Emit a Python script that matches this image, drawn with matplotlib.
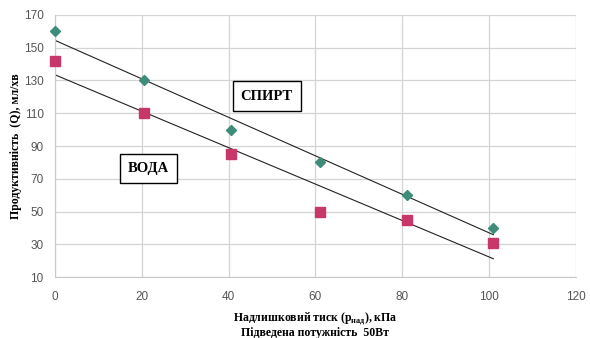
import matplotlib.pyplot as plt
import numpy as np

# надлишковий тиск, кПа
p_spyrt = [0, 20.5, 40.5, 61, 81, 101]
p_voda = [0, 20.5, 40.5, 61, 81, 101]
# продуктивність, мл/хв
q_spyrt = [160, 130, 100, 80, 60, 40]
q_voda = [142, 110, 85, 50, 45, 31]

plt.rcParams['mathtext.fontset'] = 'custom'
plt.rcParams['mathtext.rm'] = 'Liberation Serif:bold'

fig = plt.figure(figsize=(5.9, 3.38), dpi=100)
ax = fig.add_axes([0.093, 0.180, 0.883, 0.776])

ax.plot(p_spyrt, q_spyrt, "D", color="#3e8c7a", markersize=5.5, zorder=3, clip_on=False)
ax.plot(p_voda, q_voda, "s", color="#c8376a", markersize=7, zorder=3, clip_on=False)

# лінійні тренди
for p, q in [(p_spyrt, q_spyrt), (p_voda, q_voda)]:
    k, b = np.polyfit(p, q, 1)
    xs = np.array([0, max(p)])
    ax.plot(xs, k * xs + b, color="#222222", linewidth=0.8, zorder=2)

ax.set_xlim(0, 120)
ax.set_ylim(10, 170)
ax.set_xticks(range(0, 121, 20))
ax.set_yticks(range(10, 171, 20))
ax.grid(True, color="#d4d4d4", linewidth=0.9)
ax.set_axisbelow(True)
for s in ax.spines.values():
    s.set_visible(False)
ax.spines['left'].set_visible(True)
ax.spines['bottom'].set_visible(True)
ax.spines['left'].set_color("#c8c8c8")
ax.spines['bottom'].set_color("#c8c8c8")
ax.tick_params(length=0, labelsize=8.5, labelcolor="#555555")
ax.tick_params(axis="x", pad=10)
ax.tick_params(axis="y", pad=8)
for lbl in ax.get_xticklabels() + ax.get_yticklabels():
    lbl.set_family("Liberation Sans")

ax.set_ylabel("Продуктивність  (Q), мл/хв", family="Liberation Serif",
              fontweight="bold", fontsize=8.5, labelpad=1)
ax.set_xlabel("Надлишковий тиск (р$_{\\mathrm{над}}$), кПа\nПідведена потужність  50Вт",
              family="Liberation Serif", fontweight="bold", fontsize=8.5,
              linespacing=1.05, labelpad=5)

box = dict(boxstyle="square,pad=0.55", facecolor="white", edgecolor="black", linewidth=1)
ax.text(48.8, 120.5, "СПИРТ", family="Liberation Serif", fontweight="bold",
        fontsize=10.5, ha="center", va="center", bbox=box, zorder=4)
ax.text(21.6, 76.5, "ВОДА", family="Liberation Serif", fontweight="bold",
        fontsize=10.5, ha="center", va="center", bbox=box, zorder=4)

fig.savefig("out.png", dpi=100)
